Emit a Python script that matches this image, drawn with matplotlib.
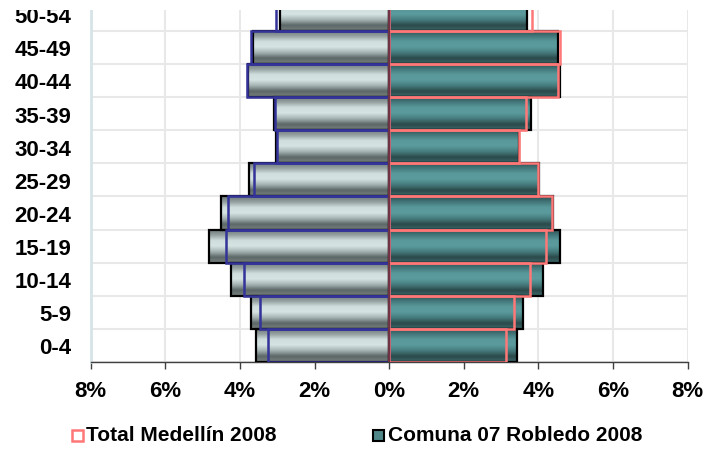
import numpy as np
import matplotlib.pyplot as plt
from matplotlib.colors import LinearSegmentedColormap
from matplotlib.patches import Rectangle

plt.rcParams['font.family'] = ['Liberation Sans', 'DejaVu Sans']
plt.rcParams['font.weight'] = 'bold'

# age groups (bottom to top)
ages = ['0-4', '5-9', '10-14', '15-19', '20-24', '25-29', '30-34',
        '35-39', '40-44', '45-49', '50-54']

# percent of population, men (left side)
men_comuna = [3.56, 3.71, 4.24, 4.82, 4.50, 3.75, 3.03, 3.09, 3.78, 3.65, 2.92]
men_total = [3.25, 3.46, 3.88, 4.38, 4.31, 3.62, 3.01, 3.06, 3.81, 3.70, 3.04]
# percent of population, women (right side)
women_comuna = [3.44, 3.60, 4.12, 4.58, 4.40, 4.01, 3.48, 3.80, 4.59, 4.52, 3.69]
women_total = [3.14, 3.36, 3.77, 4.21, 4.36, 3.99, 3.49, 3.67, 4.52, 4.58, 3.83]

xticks = [-8, -6, -4, -2, 0, 2, 4, 6, 8]

gray_cmap = LinearSegmentedColormap.from_list(
    'gray', ['#77817f', '#5c6767', '#a5b2b2', '#d5e3e3', '#d0dede', '#94a0a0', '#6c7777'])
teal_cmap = LinearSegmentedColormap.from_list(
    'teal', ['#3b6667', '#2c4a4b', '#467c7e', '#5b9b9d', '#5a999b', '#42777a', '#2e4e50'])
grad = np.linspace(1, 0, 64).reshape(-1, 1)  # row 0 = top -> dark top

fig = plt.figure(figsize=(7.14, 4.56), dpi=100)
ax = fig.add_axes([0.127, 0.204, 0.836, 0.772])

y = np.arange(len(ages))
h = 1.0

# gradient fills
for i in y:
    ax.imshow(grad, extent=[-men_comuna[i], 0, i - h / 2, i + h / 2], origin='upper',
              cmap=gray_cmap, aspect='auto', zorder=2, interpolation='bilinear')
    ax.imshow(grad, extent=[0, women_comuna[i], i - h / 2, i + h / 2], origin='upper',
              cmap=teal_cmap, aspect='auto', zorder=2, interpolation='bilinear')

ax.barh(y, [-v for v in men_comuna], height=h, facecolor='none', edgecolor='black',
        linewidth=1.6, zorder=3)
ax.barh(y, women_comuna, height=h, facecolor='none', edgecolor='black',
        linewidth=1.6, zorder=3)
ax.barh(y, [-v for v in men_total], height=h, facecolor='none', edgecolor='#333399',
        linewidth=1.8, zorder=4)
ax.barh(y, women_total, height=h, facecolor='none', edgecolor='#ff7878',
        linewidth=1.8, zorder=4)
ax.axvline(0, color='#6e3444', linewidth=1.6, zorder=5)

ax.set_xticks(xticks)
ax.set_xticklabels([f'{abs(t)}%' for t in xticks])
ax.set_yticks(y)
ax.set_yticklabels(ages)
ax.set_yticks(np.arange(-0.5, 10, 1), minor=True)
ax.set_xlim(-8, 8)
ax.set_ylim(-0.5, 10.13)

ax.grid(axis='x', which='major', color='#e8e8e8', linewidth=1.5, zorder=0)
ax.grid(axis='y', which='minor', color='#e8e8e8', linewidth=1.5, zorder=0)
ax.set_axisbelow(True)

ax.tick_params(axis='x', which='major', length=5, width=1, color='#404040', pad=8,
               labelsize=16)
ax.tick_params(axis='y', which='both', length=0, pad=14, labelsize=16)
for lab in ax.get_xticklabels() + ax.get_yticklabels():
    lab.set_fontweight('bold')

for s in ['top', 'right']:
    ax.spines[s].set_visible(False)
ax.spines['left'].set_color('#d6e3e7')
ax.spines['left'].set_linewidth(2)
ax.spines['bottom'].set_color('#404040')
ax.spines['bottom'].set_linewidth(1)

# legend
fig.add_artist(Rectangle((72 / 714, 1 - 442 / 456), 11 / 714, 11 / 456,
                         transform=fig.transFigure, facecolor='white',
                         edgecolor='#ff7878', linewidth=1.8))
fig.text(86 / 714, 1 - 436 / 456, 'Total Medellín 2008', fontsize=15,
         fontweight='bold', va='center', ha='left')
fig.add_artist(Rectangle((373 / 714, 1 - 442 / 456), 11 / 714, 11 / 456,
                         transform=fig.transFigure, facecolor='#4f8688',
                         edgecolor='black', linewidth=1.5))
fig.text(388 / 714, 1 - 436 / 456, 'Comuna 07 Robledo 2008', fontsize=15,
         fontweight='bold', va='center', ha='left')

# cropped top edge as in the source picture
fig.add_artist(Rectangle((0, 1 - 11 / 456), 1, 11 / 456, transform=fig.transFigure,
                         facecolor='white', edgecolor='none', zorder=10))

fig.savefig('out.png', dpi=100)
